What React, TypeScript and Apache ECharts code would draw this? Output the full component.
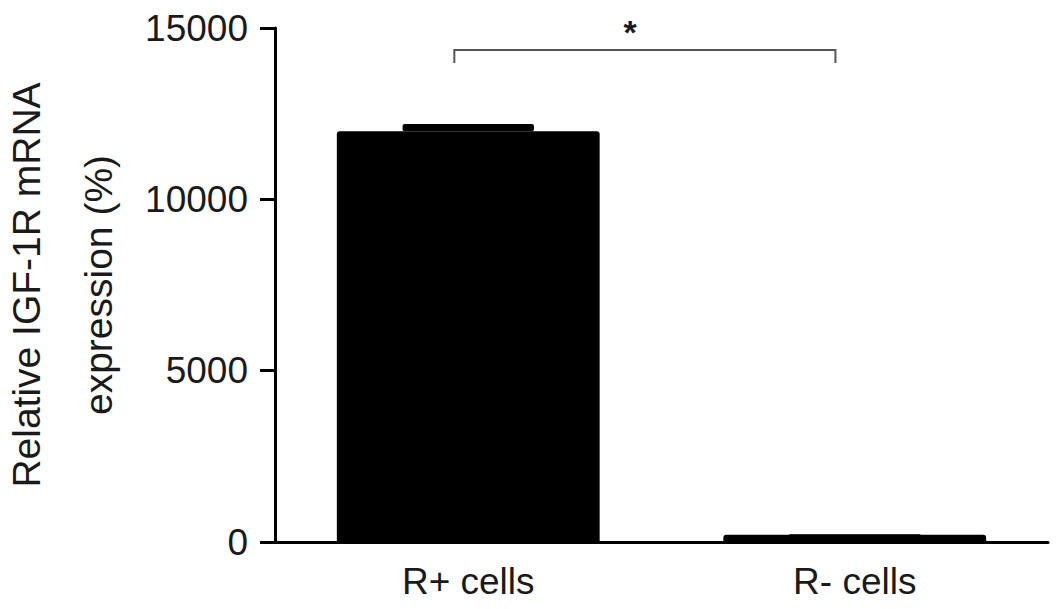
import React, { useEffect, useRef } from "react";
import * as echarts from "echarts";

const categories = ["R+ cells", "R- cells"];
const means = [11990, 210];
const errors = [210, 20];
const yTicks = [0, 5000, 10000, 15000];
const yAxisTitle = "Relative IGF-1R mRNA\nexpression (%)";
// significance bracket: [fromCategory, fromOffset, toCategory, toOffset, lineValue, tickEndValue]
// offsets are fractions of one category band
const bracket = [[0, -0.036, 1, -0.05, 14358, 13980]];
// significance mark: [category, offset, value]
const sigMark = [[0, 0.419, 14880]];

export default function App() {
  const ref = useRef<HTMLDivElement>(null);
  useEffect(() => {
    if (!ref.current) return;
    const chart = echarts.init(ref.current, null, { renderer: "svg" });
    const font = "'Liberation Sans', Arial, sans-serif";
    chart.setOption({
      animation: false,
      grid: { left: 275, right: 15, top: 28, bottom: 67, containLabel: false, outerBoundsMode: "none" },
      xAxis: {
        type: "category",
        data: categories,
        axisLine: { lineStyle: { color: "#000", width: 3 } },
        axisTick: { show: false },
        axisLabel: { color: "#1a1a1a", fontSize: 37, fontFamily: font, margin: 21 },
      },
      yAxis: {
        type: "value",
        min: yTicks[0],
        max: yTicks[yTicks.length - 1],
        interval: 5000,
        name: yAxisTitle,
        nameLocation: "middle",
        nameGap: 139,
        nameRotate: 90,
        nameTextStyle: { color: "#1a1a1a", fontSize: 39, fontFamily: font, lineHeight: 72, align: "center" },
        splitLine: { show: false },
        axisLine: { show: true, lineStyle: { color: "#000", width: 3 } },
        axisTick: { show: true, length: 15, lineStyle: { color: "#000", width: 3 } },
        axisLabel: {
          color: "#1a1a1a",
          fontSize: 37,
          fontFamily: font,
          margin: 27,
          formatter: (v: number) => String(v),
        },
      },
      series: [
        {
          type: "bar",
          data: means,
          barWidth: "68%",
          itemStyle: { color: "#000", borderRadius: [3, 3, 0, 0] },
        },
        {
          type: "custom",
          data: means.map((m, i) => [i, m, m + errors[i]]),
          renderItem: (params: any, api: any) => {
            const i = api.value(0);
            const lo = api.coord([i, api.value(1)]);
            const hi = api.coord([i, api.value(2)]);
            const w = api.size([1, 0])[0] * 0.34;
            return {
              type: "rect",
              shape: { x: lo[0] - w / 2, y: hi[1], width: w, height: lo[1] - hi[1], r: 2 },
              style: { fill: "#000" },
            };
          },
          z: 3,
        },
        {
          type: "custom",
          data: bracket,
          renderItem: (params: any, api: any) => {
            const band = api.size([1, 0])[0];
            const a = api.coord([api.value(0), api.value(4)]);
            const b = api.coord([api.value(2), api.value(4)]);
            const t = api.coord([api.value(0), api.value(5)]);
            const ax = a[0] + api.value(1) * band;
            const bx = b[0] + api.value(3) * band;
            return {
              type: "polyline",
              shape: { points: [[ax, t[1]], [ax, a[1]], [bx, a[1]], [bx, t[1]]] },
              style: { stroke: "#555", lineWidth: 2, fill: "none" },
            };
          },
        },
        {
          type: "custom",
          data: sigMark,
          renderItem: (params: any, api: any) => {
            const band = api.size([1, 0])[0];
            const p = api.coord([api.value(0), api.value(2)]);
            return {
              type: "text",
              x: p[0] + api.value(1) * band,
              y: p[1],
              style: {
                text: "*",
                fill: "#1a1a1a",
                font: "bold 34px 'Liberation Sans', Arial, sans-serif",
                align: "center",
                verticalAlign: "middle",
              },
            };
          },
        },
      ],
    });
    return () => chart.dispose();
  }, []);
  return (
    <div
      ref={ref}
      style={{ position: "fixed", left: 0, top: 0, width: 1063, height: 609, background: "#fff" }}
    />
  );
}
